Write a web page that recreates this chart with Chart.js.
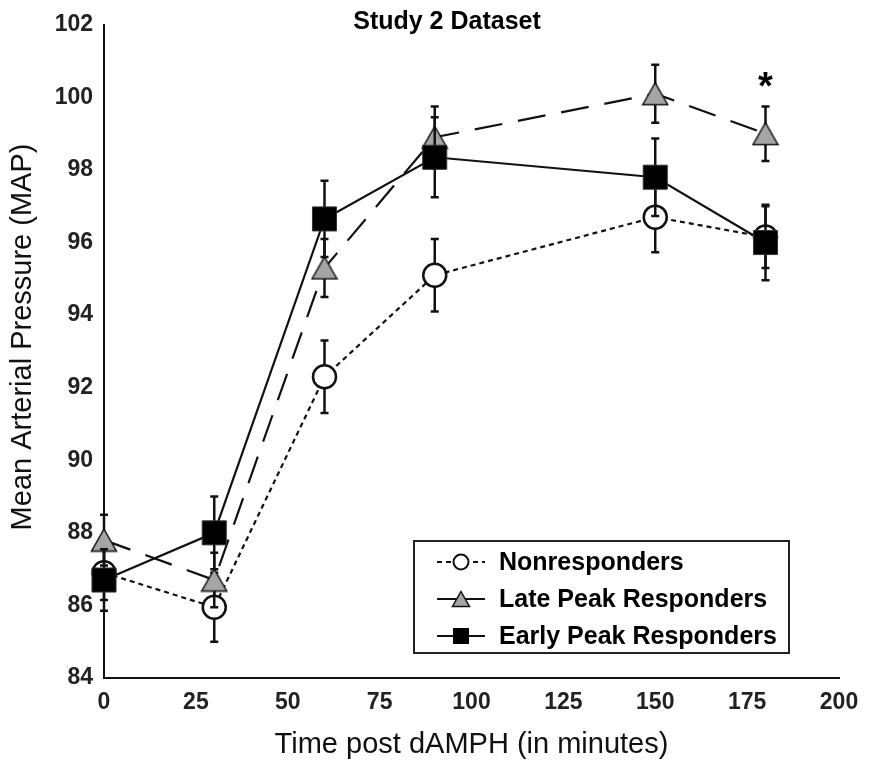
<!DOCTYPE html>
<html>
<head>
<meta charset="utf-8">
<script src="https://cdn.jsdelivr.net/npm/chart.js@4.4.1/dist/chart.umd.min.js"></script>
<style>
  html, body { margin:0; padding:0; background:#fff; }
  #wrap { width:873px; height:768px; }
</style>
</head>
<body>
<div id="wrap"><canvas id="chartMap"></canvas></div>
<script>
/* data */
const times      = [0, 30, 60, 90, 150, 180];
const nonMean    = [86.9, 85.95, 92.3, 95.1, 96.7, 96.15];
const nonErr     = [0.75, 0.95, 1.0, 1.0, 0.97, 0.85];
const lateMean   = [87.8, 86.7, 95.3, 98.9, 100.1, 99.0];
const lateErr    = [0.7, 0.75, 0.8, 0.85, 0.8, 0.75];
const earlyMean  = [86.7, 88.0, 96.65, 98.35, 97.8, 96.0];
const earlyErr   = [0.85, 1.0, 1.05, 1.1, 1.07, 1.04];
const seriesNames = ['Nonresponders', 'Late Peak Responders', 'Early Peak Responders'];
const xTicks = [0, 25, 50, 75, 100, 125, 150, 175, 200];
const yTicks = [84, 86, 88, 90, 92, 94, 96, 98, 100, 102];
const sigTimes = [180];   // asterisk over Late Peak
const FONT = 'Arial, "Liberation Sans", sans-serif';

// triangle drawn centred on its box (like the original plot), used as pointStyle
function makeTriangle(w, h){
  const c = document.createElement('canvas');
  c.width = w + 3; c.height = h + 3;
  const g = c.getContext('2d');
  g.beginPath();
  g.moveTo(c.width/2, 1.5);
  g.lineTo(c.width - 1.5, c.height - 1.5);
  g.lineTo(1.5, c.height - 1.5);
  g.closePath();
  g.fillStyle = '#a5a5a5'; g.fill();
  g.lineWidth = 1.5; g.strokeStyle = '#111'; g.stroke();
  return c;
}
const triBig = makeTriangle(25, 22);
const triSmall = makeTriangle(17, 15);

const pts = (ys) => times.map((t, i) => ({ x: t, y: ys[i] }));

const extras = {
  id: 'extras',
  beforeDatasetDraw(chart, args){
    const ds = chart.data.datasets[args.index];
    const ctx = chart.ctx, xs = chart.scales.x, ys = chart.scales.y;
    ctx.save();
    ctx.strokeStyle = '#111'; ctx.lineWidth = 2.5; ctx.setLineDash([]);
    ds.data.forEach((p, i) => {
      const px = xs.getPixelForValue(p.x);
      const top = ys.getPixelForValue(p.y + ds.errors[i]);
      const bot = ys.getPixelForValue(p.y - ds.errors[i]);
      ctx.beginPath();
      ctx.moveTo(px, top); ctx.lineTo(px, bot);
      ctx.moveTo(px - 4, top); ctx.lineTo(px + 4, top);
      ctx.moveTo(px - 4, bot); ctx.lineTo(px + 4, bot);
      ctx.stroke();
    });
    ctx.restore();
  },
  afterDraw(chart){
    const ctx = chart.ctx, xs = chart.scales.x, ys = chart.scales.y;
    ctx.save();
    // title
    ctx.fillStyle = '#000';
    ctx.font = 'bold 25px ' + FONT;
    ctx.textAlign = 'center'; ctx.textBaseline = 'middle';
    ctx.fillText('Study 2 Dataset', 447, 22);
    // y title
    ctx.save();
    ctx.translate(23, 337);
    ctx.rotate(-Math.PI/2);
    ctx.font = '29px ' + FONT;
    ctx.fillStyle = '#111';
    ctx.fillText('Mean Arterial Pressure (MAP)', 0, 0);
    ctx.restore();
    // significance marks
    const late = chart.data.datasets[1];
    ctx.font = 'bold 38px ' + FONT;
    ctx.textBaseline = 'alphabetic';
    sigTimes.forEach(t => {
      const i = times.indexOf(t);
      const top = ys.getPixelForValue(late.data[i].y + late.errors[i]);
      ctx.fillText('*', xs.getPixelForValue(t), top - 7);
    });
    // legend box
    const bx = 414, by = 541, bw = 375, bh = 112;
    ctx.lineWidth = 2; ctx.strokeStyle = '#222'; ctx.setLineDash([]);
    ctx.strokeRect(bx, by, bw, bh);
    const rows = [562, 599, 636];
    chart.data.datasets.forEach((ds, k) => {
      const yy = rows[k];
      ctx.save();
      ctx.strokeStyle = '#111'; ctx.lineWidth = 2;
      ctx.setLineDash(k === 0 ? [5, 4] : []);
      ctx.beginPath(); ctx.moveTo(437, yy); ctx.lineTo(485, yy); ctx.stroke();
      ctx.setLineDash([]);
      if (k === 0){
        ctx.beginPath(); ctx.arc(461, yy, 7.5, 0, Math.PI*2);
        ctx.fillStyle = '#fff'; ctx.fill(); ctx.lineWidth = 2; ctx.stroke();
      } else if (k === 1){
        ctx.drawImage(triSmall, 461 - triSmall.width/2, yy - triSmall.height/2);
      } else {
        ctx.fillStyle = '#000'; ctx.fillRect(453, yy - 8, 16, 16);
      }
      ctx.restore();
      ctx.fillStyle = '#000';
      ctx.font = 'bold 25px ' + FONT;
      ctx.textAlign = 'left'; ctx.textBaseline = 'middle';
      ctx.fillText(ds.label, 499, yy + 1);
    });
    ctx.restore();
  }
};

new Chart(document.getElementById('chartMap'), {
  type: 'line',
  data: {
    datasets: [
      { label: seriesNames[0], data: pts(nonMean), errors: nonErr, order: 3, clip: false,
        borderColor: '#111', borderWidth: 2.2, borderDash: [5, 4],
        pointStyle: 'circle', pointRadius: 11.5, pointBackgroundColor: '#fff',
        pointBorderColor: '#111', pointBorderWidth: 2.5 },
      { label: seriesNames[1], data: pts(lateMean), errors: lateErr, order: 2, clip: false,
        borderColor: '#111', borderWidth: 2.2, borderDash: [28, 16],
        pointStyle: triBig, pointRadius: 14 },
      { label: seriesNames[2], data: pts(earlyMean), errors: earlyErr, order: 1, clip: false,
        borderColor: '#111', borderWidth: 2.2,
        pointStyle: 'rect', pointRadius: 17, pointBackgroundColor: '#000',
        pointBorderColor: '#333', pointBorderWidth: 1 }
    ]
  },
  options: {
    responsive: true, maintainAspectRatio: false, animation: false, events: [],
    layout: { padding: { left: 0, right: 34, top: 24, bottom: 6 } },
    plugins: { legend: { display: false }, tooltip: { enabled: false }, title: { display: false } },
    elements: { line: { tension: 0, fill: false } },
    scales: {
      x: {
        type: 'linear', min: 0, max: 200,
        afterBuildTicks: ax => { ax.ticks = xTicks.map(v => ({ value: v })); },
        afterFit: ax => { ax.height = 84; },
        grid: { display: false, drawTicks: false },
        border: { display: true, color: '#111', width: 2 },
        ticks: { padding: 11, color: '#222', font: { family: FONT, size: 23, weight: 'bold' } },
        title: { display: true, text: 'Time post dAMPH (in minutes)', color: '#111',
                 font: { family: FONT, size: 29 }, padding: 0 }
      },
      y: {
        type: 'linear', min: 84, max: 102,
        afterBuildTicks: ax => { ax.ticks = yTicks.map(v => ({ value: v })); },
        afterFit: ax => { ax.width = 104; },
        grid: { display: false, drawTicks: false },
        border: { display: true, color: '#111', width: 2 },
        ticks: { padding: 11, color: '#222', font: { family: FONT, size: 23, weight: 'bold' } }
      }
    }
  },
  plugins: [extras]
});
</script>
</body>
</html>
